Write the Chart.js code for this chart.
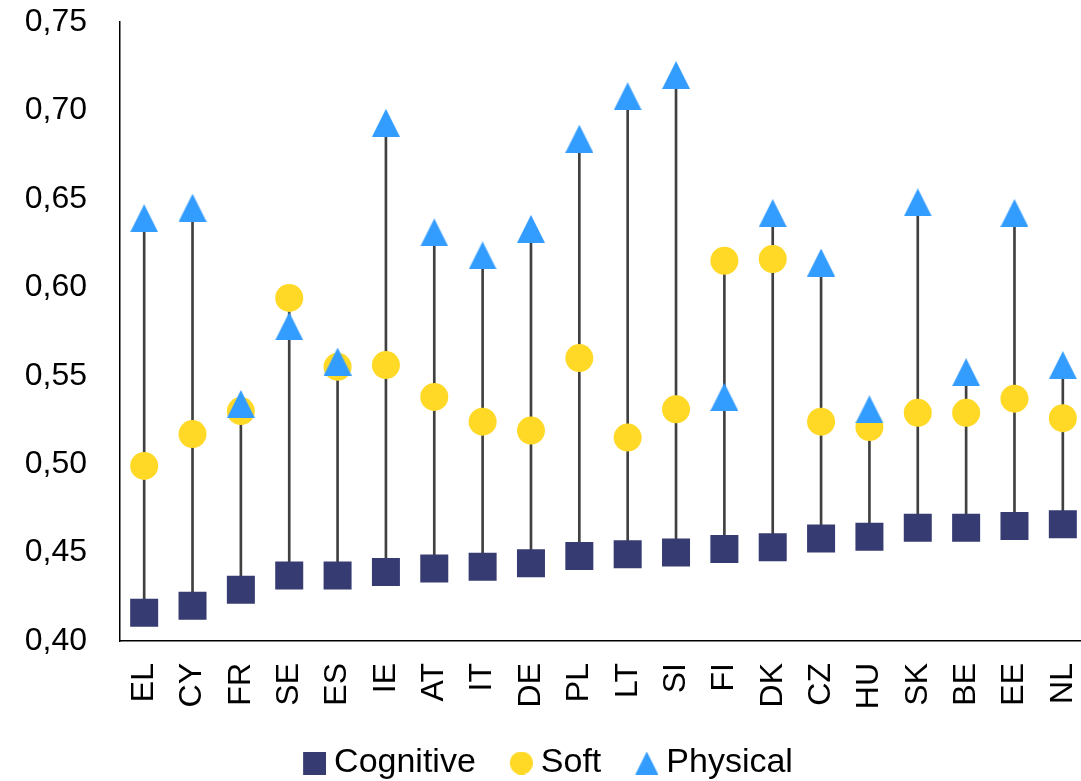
<!DOCTYPE html>
<html>
<head>
<meta charset="utf-8">
<script src="https://cdn.jsdelivr.net/npm/chart.js@4/dist/chart.umd.min.js"></script>
<style>
  html, body { margin: 0; padding: 0; background: #fff; overflow: hidden; }
  #wrap { width: 1087px; height: 781px; position: relative; }
</style>
</head>
<body>
<div id="wrap"><canvas id="skillsChart"></canvas></div>
<script>
var countries = ["EL", "CY", "FR", "SE", "ES", "IE", "AT", "IT", "DE", "PL",
                 "LT", "SI", "FI", "DK", "CZ", "HU", "SK", "BE", "EE", "NL"];
var cognitive = [0.416, 0.420, 0.429, 0.437, 0.437, 0.439, 0.441, 0.442, 0.444, 0.448,
                 0.449, 0.450, 0.452, 0.453, 0.458, 0.459, 0.464, 0.464, 0.465, 0.466];
var soft = [0.499, 0.517, 0.530, 0.594, 0.555, 0.556, 0.538, 0.524, 0.519, 0.560,
            0.515, 0.531, 0.615, 0.616, 0.524, 0.521, 0.529, 0.529, 0.537, 0.526];
var physical = [0.639, 0.645, 0.534, 0.578, 0.558, 0.693, 0.631, 0.618, 0.633, 0.684,
                0.708, 0.720, 0.538, 0.642, 0.614, 0.531, 0.648, 0.552, 0.642, 0.556];
var yTicks = ["0,40", "0,45", "0,50", "0,55", "0,60", "0,65", "0,70", "0,75"];

(function () {
  var NAVY = "#363B72", YELLOW = "#FFD926", BLUE = "#339CFF", LINE = "#404040";

  // marker images so the shapes sit centred on the value like in Excel.
  // shift > 0 leaves blank room on the left (used to pull legend icons next to their text)
  function icon(shape, size, color, shift) {
    shift = shift || 0;
    var cv = document.createElement("canvas");
    cv.width = size + 2 * shift; cv.height = size;
    var g = cv.getContext("2d");
    g.translate(2 * shift, 0);
    g.fillStyle = color;
    g.beginPath();
    if (shape === "tri") {
      g.moveTo(0, size); g.lineTo(size / 2, 0); g.lineTo(size, size);
    } else if (shape === "circle") {
      g.arc(size / 2, size / 2, size / 2, 0, Math.PI * 2);
    } else {
      g.rect(0, 0, size, size);
    }
    g.closePath();
    g.fill();
    return cv;
  }
  var legendIcons = [icon("rect", 23, NAVY, 9), icon("circle", 23, YELLOW, 9), icon("tri", 23, BLUE, 9)];

  var ranges = countries.map(function (_, i) {
    var v = [cognitive[i], soft[i], physical[i]];
    return [Math.min.apply(null, v), Math.max.apply(null, v)];
  });

  Chart.defaults.font.family = "'Liberation Sans', Arial, sans-serif";
  Chart.defaults.color = "#000";

  new Chart(document.getElementById("skillsChart"), {
    data: {
      labels: countries,
      datasets: [
        {
          type: "line", label: "Cognitive", data: cognitive, showLine: false,
          pointStyle: "rect", pointRadius: 19.8, pointBorderWidth: 0,
          backgroundColor: NAVY, borderColor: NAVY, order: 3,
        },
        {
          type: "line", label: "Soft", data: soft, showLine: false,
          pointStyle: "circle", pointRadius: 14, pointBorderWidth: 0,
          backgroundColor: YELLOW, borderColor: YELLOW, order: 2,
        },
        {
          type: "line", label: "Physical", data: physical, showLine: false,
          pointStyle: icon("tri", 28, BLUE), pointRadius: 14, pointBorderWidth: 0,
          backgroundColor: BLUE, borderColor: BLUE, order: 1,
        },
        {
          type: "bar", label: "range", data: ranges, barThickness: 2,
          backgroundColor: LINE, order: 4,
        },
      ],
    },
    options: {
      responsive: true,
      maintainAspectRatio: false,
      animation: false,
      layout: { autoPadding: false, padding: { top: 22, right: 0, left: 0, bottom: -9 } },
      plugins: {
        tooltip: { enabled: false },
        legend: {
          position: "bottom",
          labels: {
            usePointStyle: true,
            boxWidth: 23,
            boxHeight: 23,
            padding: 25,
            font: { size: 34 },
            generateLabels: function (chart) {
              return [0, 1, 2].map(function (i) {
                var ds = chart.data.datasets[i];
                return {
                  text: ds.label, pointStyle: legendIcons[i], fillStyle: ds.backgroundColor,
                  strokeStyle: ds.backgroundColor, lineWidth: 0, hidden: false, datasetIndex: i,
                };
              });
            },
          },
        },
      },
      scales: {
        x: {
          type: "category",
          offset: true,
          grid: { display: false, drawTicks: false },
          border: { display: true, color: "#000", width: 1.5 },
          ticks: { minRotation: 90, maxRotation: 90, padding: 22, font: { size: 32 } },
          afterFit: function (s) { s.height = 80; s.paddingLeft = 0; s.paddingRight = 0; },
        },
        y: {
          min: 0.40,
          max: 0.75,
          grid: { display: false, drawTicks: false },
          border: { display: true, color: "#000", width: 1.5 },
          ticks: {
            stepSize: 0.05,
            padding: 33,
            font: { size: 32 },
            callback: function (v, i) { return yTicks[i]; },
          },
          afterFit: function (s) { s.width = 120; s.paddingTop = 0; s.paddingBottom = 0; },
        },
      },
    },
  });
})();
</script>
</body>
</html>
